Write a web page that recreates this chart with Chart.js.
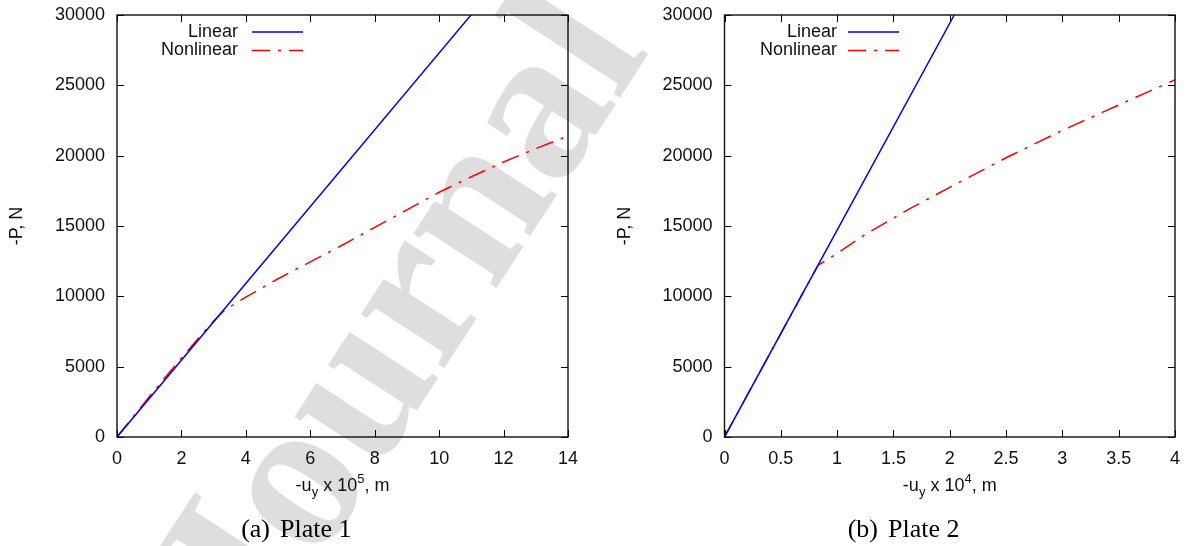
<!DOCTYPE html>
<html>
<head>
<meta charset="utf-8">
<script src="https://cdn.jsdelivr.net/npm/chart.js@4.4.0/dist/chart.umd.min.js"></script>
<style>
  html, body { margin: 0; padding: 0; background: #fff; }
  #wrap { position: relative; width: 1188px; height: 546px; overflow: hidden; }
  #wm { position: absolute; left: 0; top: 0; }
  .plot { position: absolute; top: 0; height: 546px; }
</style>
</head>
<body>
<div id="wrap">
  <canvas id="wm" width="1188" height="546"></canvas>
  <div class="plot" style="left:0;width:600px"><canvas id="plate1" width="600" height="546"></canvas></div>
  <div class="plot" style="left:600px;width:588px"><canvas id="plate2" width="588" height="546"></canvas></div>
</div>
<script>
// values (x in scaled units, P in N)
const plate1LinU = [0, 5, 11];
const plate1LinP = [0, 13650, 30030];
const plate1NonU = [0, 0.5, 1, 1.5, 2, 2.5, 3, 3.35, 4, 5, 6, 7, 8, 9, 10, 11, 12, 13, 14];
const plate1NonP = [0, 1420, 2860, 4250, 5620, 6950, 8250, 9030, 9950, 11250, 12450, 13650, 14900, 16150, 17400, 18500, 19550, 20500, 21400];

const plate2LinU = [0, 1, 2.04];
const plate2LinP = [0, 14700, 30000];
const plate2NonU = [0, 0.2, 0.4, 0.6, 0.83, 1.0, 1.25, 1.65, 2.0, 2.5, 3.0, 3.5, 4.0];
const plate2NonP = [0, 2940, 5880, 8820, 12200, 13050, 14400, 16250, 17750, 19850, 21800, 23600, 25400];

const yTicks = { min: 0, max: 30000, step: 5000 };
const seriesNames = ['Linear', 'Nonlinear'];

// watermark behind the plots
(function () {
  const c = document.getElementById('wm').getContext('2d');
  c.save();
  c.fillStyle = 'rgb(222,222,222)';
  c.font = 'bold 216px "Liberation Serif"';
  c.translate(258, 655);
  c.rotate(-57 * Math.PI / 180);
  c.fillText('Journal', 0, 0);
  c.restore();
})();

function pts(us, ps) {
  return us.map((u, i) => ({ x: u, y: ps[i] }));
}

const frame = {
  id: 'frame',
  afterDraw(chart, args, o) {
    const ctx = chart.ctx;
    const a = chart.chartArea;
    const x = chart.scales.x, y = chart.scales.y;
    ctx.save();

    // gnuplot style ticks, inward, mirrored
    ctx.strokeStyle = '#000';
    ctx.lineWidth = 1;
    ctx.beginPath();
    x.ticks.forEach(t => {
      const px = Math.round(x.getPixelForValue(t.value)) + 0.5;
      ctx.moveTo(px, a.bottom); ctx.lineTo(px, a.bottom - 7);
      ctx.moveTo(px, a.top); ctx.lineTo(px, a.top + 7);
    });
    y.ticks.forEach(t => {
      const py = Math.round(y.getPixelForValue(t.value)) + 0.5;
      ctx.moveTo(a.left, py); ctx.lineTo(a.left + 7, py);
      ctx.moveTo(a.right, py); ctx.lineTo(a.right - 7, py);
    });
    ctx.stroke();
    ctx.lineWidth = 1.4;
    ctx.strokeStyle = '#111';
    ctx.strokeRect(a.left, a.top, a.right - a.left, a.bottom - a.top);

    // key
    ctx.font = '18px "Liberation Sans"';
    ctx.fillStyle = '#111';
    ctx.textAlign = 'right';
    ctx.textBaseline = 'middle';
    chart.data.datasets.forEach((ds, i) => {
      const ly = a.top + 17 + i * 18.5;
      ctx.fillText(ds.label, a.left + o.keyText, ly);
      ctx.strokeStyle = ds.borderColor;
      ctx.lineWidth = ds.borderWidth;
      ctx.setLineDash(ds.borderDash || []);
      ctx.beginPath();
      ctx.moveTo(a.left + o.keyLine, ly);
      ctx.lineTo(a.left + o.keyLine + 51, ly);
      ctx.stroke();
    });
    ctx.setLineDash([]);

    // x title with sub/superscript
    const big = '18px "Liberation Sans"', small = '13px "Liberation Sans"';
    const parts = [['-u', big, 0], ['y', small, 5], [' x 10', big, 0], [o.exp, small, -8], [', m', big, 0]];
    let w = 0;
    parts.forEach(p => { ctx.font = p[1]; w += ctx.measureText(p[0]).width; });
    let cx = (a.left + a.right) / 2 - w / 2;
    ctx.textAlign = 'left';
    ctx.textBaseline = 'alphabetic';
    parts.forEach(p => {
      ctx.font = p[1];
      ctx.fillText(p[0], cx, 491 + p[2]);
      cx += ctx.measureText(p[0]).width;
    });

    // y title
    ctx.save();
    ctx.font = big;
    ctx.textAlign = 'center';
    ctx.textBaseline = 'middle';
    ctx.translate(a.left - 99.5, (a.top + a.bottom) / 2);
    ctx.rotate(-Math.PI / 2);
    ctx.fillText('-P, N', 0, 0);
    ctx.restore();

    // caption
    ctx.font = '26px "Liberation Serif"';
    ctx.fillStyle = '#000';
    ctx.textBaseline = 'alphabetic';
    ctx.textAlign = 'right';
    ctx.fillText(o.tag, o.capX - 5, 537);
    ctx.textAlign = 'left';
    ctx.fillText(o.caption, o.capX + 5, 537);

    ctx.restore();
  }
};

function makeChart(id, linU, linP, nonU, nonP, xMax, xStep, yWidth, padRight, opts) {
  return new Chart(document.getElementById(id), {
    type: 'line',
    data: {
      datasets: [
        {
          label: seriesNames[0],
          data: pts(linU, linP),
          borderColor: '#0000ff',
          borderWidth: 1.5,
          pointRadius: 0,
          fill: false
        },
        {
          label: seriesNames[1],
          data: pts(nonU, nonP),
          borderColor: '#ff0000',
          borderWidth: 1.5,
          borderDash: [18, 8, 3, 8],
          pointRadius: 0,
          fill: false
        }
      ]
    },
    options: {
      responsive: false,
      animation: false,
      layout: { padding: { top: 15, right: padRight, left: 0, bottom: 0 } },
      plugins: {
        legend: { display: false },
        tooltip: { enabled: false },
        frame: opts
      },
      scales: {
        x: {
          type: 'linear',
          min: 0,
          max: xMax,
          grid: { display: false, drawTicks: false },
          border: { display: false },
          ticks: {
            stepSize: xStep,
            padding: 11,
            color: '#111',
            font: { family: 'Liberation Sans', size: 18 },
            maxRotation: 0,
            callback: v => String(v)
          },
          afterFit: s => { s.height = 109; s.paddingLeft = 0; s.paddingRight = 0; }
        },
        y: {
          min: yTicks.min,
          max: yTicks.max,
          grid: { display: false, drawTicks: false },
          border: { display: false },
          ticks: {
            stepSize: yTicks.step,
            padding: 12,
            color: '#111',
            font: { family: 'Liberation Sans', size: 18 },
            callback: v => String(v)
          },
          afterFit: s => { s.width = yWidth; s.paddingTop = 0; s.paddingBottom = 0; }
        }
      }
    },
    plugins: [frame]
  });
}

makeChart('plate1', plate1LinU, plate1LinP, plate1NonU, plate1NonP, 14, 2, 117, 32,
  { keyText: 121, keyLine: 135, exp: '5', tag: '(a)', caption: 'Plate 1', capX: 275 });
makeChart('plate2', plate2LinU, plate2LinP, plate2NonU, plate2NonP, 4, 0.5, 124.5, 13,
  { keyText: 112.5, keyLine: 123.5, exp: '4', tag: '(b)', caption: 'Plate 2', capX: 283 });
</script>
</body>
</html>
